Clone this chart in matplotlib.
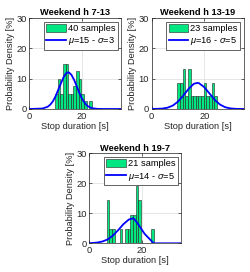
import matplotlib
matplotlib.use("Agg")
import matplotlib.pyplot as plt
import numpy as np

plt.rcParams['font.family'] = ['Liberation Sans', 'DejaVu Sans']
plt.rcParams['mathtext.fontset'] = 'custom'
plt.rcParams['mathtext.it'] = 'Liberation Sans:italic'
plt.rcParams['mathtext.rm'] = 'Liberation Sans'

# ---------------- data ----------------
titles = ["Weekend h 7-13", "Weekend h 13-19", "Weekend h 19-7"]
n_samples = [40, 23, 21]
mu_labels = [15, 16, 14]
sigma_labels = [3, 5, 5]

# histogram bins (left edges, s) and sample counts per bin (bin width 1 s)
edges1 = [9.8, 10.8, 11.8, 12.8, 13.8, 14.8, 15.8, 16.8, 17.8, 18.8, 19.8, 20.8, 21.8, 22.8]
counts1 = [2, 4, 2, 6, 6, 2, 2, 3, 5, 4, 2, 1, 0, 1]

edges2 = [9.8, 10.8, 11.8, 12.8, 13.8, 14.8, 15.8, 16.8, 17.8, 18.8, 19.8, 20.8, 21.8, 22.8, 23.8]
counts2 = [2, 2, 3, 1, 3, 1, 1, 1, 1, 1, 2, 1, 1, 2, 1]

edges3 = [6.6, 7.6, 8.6, 11.6, 13.6, 14.6, 15.6, 16.6, 17.6, 18.6, 23.6]
counts3 = [3, 1, 1, 1, 1, 1, 2, 2, 4, 3, 1]

# fitted density curves (x in s, y in %)
curve1_x = [0, 5, 7, 8, 9, 10, 11, 12, 13, 14, 15, 16, 17, 18, 19, 20, 21, 22, 23, 24, 26, 28, 35]
curve1_y = [0, 0.15, 0.74, 1.45, 2.56, 4.2, 6.3, 8.4, 10.4, 11.8, 12.1, 11.3, 9.7, 7.6, 5.4, 3.5,
            2.1, 1.1, 0.56, 0.25, 0.04, 0, 0]

curve2_x = [0, 4, 6, 8, 10, 12, 14, 16, 17.3, 18, 20, 22, 24, 26, 28, 30, 32, 35]
curve2_y = [0, 0.13, 0.42, 1.12, 2.43, 4.4, 6.6, 8.3, 8.6, 8.5, 7.2, 5.1, 3.0, 1.45, 0.57, 0.19, 0.05, 0]

curve3_x = [0, 3, 5, 7, 9, 11, 13, 15, 16.5, 17, 18.5, 21, 24.5, 35]
curve3_y = [0.02, 0.25, 0.6, 1.3, 2.6, 4.4, 6.4, 7.9, 8.3, 8.2, 6.5, 3.2, 0, 0]

edges_all = [edges1, edges2, edges3]
counts_all = [counts1, counts2, counts3]
curves = [(curve1_x, curve1_y), (curve2_x, curve2_y), (curve3_x, curve3_y)]

# ---------------- layout ----------------
W, H = 250, 272
fig = plt.figure(figsize=(W / 100, H / 100), dpi=100)
boxes = [  # left, top, width, height in px
    (29.3, 18.0, 92.0, 91.0),
    (151.7, 18.0, 92.0, 91.0),
    (89.3, 153.3, 92.0, 90.0),
]

bar_color = '#00E680'
fs = 6.7
dark = '#262626'

for i in range(3):
    l, t, w, h = boxes[i]
    ax = fig.add_axes([l / W, 1 - (t + h) / H, w / W, h / H])
    counts = np.array(counts_all[i], dtype=float)
    heights = counts / n_samples[i] * 100.0
    bars = ax.bar(edges_all[i], heights, width=1.0, align='edge', color=bar_color,
                  edgecolor='#222222', linewidth=0.4, zorder=2)
    cx, cy = curves[i]
    line, = ax.plot(cx, cy, color='#0000FF', linewidth=1.3, zorder=3)
    ax.set_xlim(0, 35)
    ax.set_ylim(0, 30)
    ax.set_xticks([0, 20])
    ax.set_yticks([0, 10, 20, 30])
    ax.grid(True, color='#DDDDDD', linewidth=0.5, zorder=0)
    ax.set_axisbelow(True)
    ax.tick_params(direction='in', length=2, width=0.5, labelsize=fs,
                   colors=dark, top=True, right=True, pad=2)
    for s in ax.spines.values():
        s.set_color(dark)
        s.set_linewidth(0.5)
    ax.set_title(titles[i], fontsize=fs, fontweight='bold', pad=2)
    ax.set_xlabel("Stop duration [s]", fontsize=fs, color=dark, labelpad=1)
    ax.set_ylabel("Probability Density [%]", fontsize=fs, color=dark, labelpad=1)
    leg = ax.legend([bars, line],
                    [f"{n_samples[i]} samples",
                     f"$\\mu$={mu_labels[i]} - $\\sigma$={sigma_labels[i]}"],
                    loc='upper right', fontsize=fs, handlelength=2.1, handleheight=0.9,
                    handletextpad=0.2, borderpad=0.25, labelspacing=0.25,
                    borderaxespad=0.4, fancybox=False, framealpha=1)
    leg.get_frame().set_edgecolor(dark)
    leg.get_frame().set_linewidth(0.5)

fig.savefig("out.png", dpi=100)
